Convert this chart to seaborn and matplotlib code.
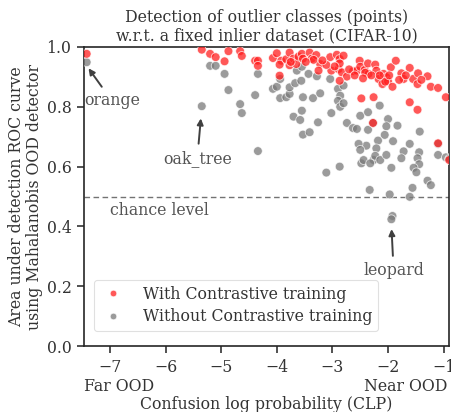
import matplotlib
matplotlib.use("Agg")
import matplotlib.pyplot as plt
import seaborn as sns
import pandas as pd
import numpy as np

# ---- data ----
with_clp = [-7.42, -5.35, -5.20, -5.10, -4.94, -4.87, -4.66, -4.63, -4.39, -4.34,
            -4.34, -4.07, -4.00, -3.92, -3.95, -3.83, -3.77, -3.77, -3.70, -3.65,
            -3.61, -3.55, -3.53, -3.41, -3.37, -3.95, -3.29, -3.22, -3.04, -2.92,
            -2.87, -2.80, -3.25, -3.02, -2.89, -2.83, -2.74, -2.63, -2.56, -2.51,
            -2.50, -2.42, -2.36, -2.35, -2.23, -2.21, -2.17, -2.10, -2.08, -2.03,
            -2.00, -1.95, -1.92, -1.86, -1.76, -1.72, -1.61, -1.55, -1.46, -1.47,
            -1.29, -1.23, -1.10, -0.96, -2.48, -2.26, -1.61, -1.47, -2.27, -1.10,
            -2.87, -0.90, -3.34, -3.11, -2.87, -2.41, -2.05, -3.48, -3.18, -2.96,
            -2.70, -2.60, -2.45, -2.30, -2.15, -1.98, -1.80, -1.68, -1.40, -3.75]
with_auc = [0.977, 0.991, 0.977, 0.966, 0.952, 0.986, 0.986, 0.970, 0.954, 0.954,
            0.937, 0.963, 0.979, 0.954, 0.941, 0.959, 0.981, 0.939, 0.961, 0.943,
            0.968, 0.977, 0.961, 0.981, 0.961, 0.904, 0.973, 0.943, 0.966, 0.974,
            0.960, 0.971, 0.921, 0.921, 0.926, 0.915, 0.901, 0.919, 0.921, 0.954,
            0.934, 0.923, 0.945, 0.910, 0.941, 0.921, 0.893, 0.876, 0.910, 0.899,
            0.885, 0.932, 0.867, 0.954, 0.912, 0.893, 0.930, 0.893, 0.912, 0.876,
            0.902, 0.867, 0.863, 0.832, 0.828, 0.832, 0.815, 0.790, 0.746, 0.678,
            0.887, 0.622, 0.957, 0.940, 0.945, 0.914, 0.884, 0.950, 0.955, 0.935,
            0.925, 0.905, 0.895, 0.905, 0.905, 0.905, 0.890, 0.905, 0.890, 0.950]

without_clp = [-7.42, -5.20, -5.10, -4.94, -4.87, -5.35, -4.66, -4.63, -4.39, -4.34,
               -4.34, -4.07, -4.00, -3.94, -3.94, -3.83, -3.77, -3.77, -3.67, -3.64,
               -3.56, -3.55, -3.43, -3.35, -3.53, -3.70, -3.58, -3.55, -3.53, -3.41,
               -3.28, -3.22, -3.04, -2.90, -2.80, -2.86, -2.90, -2.86, -3.02, -3.26,
               -2.74, -2.63, -2.56, -2.50, -2.36, -2.36, -2.15, -2.00, -2.03, -2.06,
               -2.18, -2.21, -2.39, -2.53, -2.50, -1.91, -1.72, -1.61, -1.43, -1.44,
               -1.83, -2.48, -2.44, -2.26, -2.23, -2.14, -2.03, -1.94, -1.76, -1.47,
               -1.44, -1.54, -1.49, -1.29, -1.23, -2.33, -1.97, -1.56, -1.61, -1.92,
               -1.94, -1.10, -0.96, -3.11, -2.87, -1.10, -2.27, -2.80, -2.32, -0.90]
without_auc = [0.949, 0.937, 0.937, 0.910, 0.856, 0.802, 0.809, 0.779, 0.839, 0.910,
               0.652, 0.860, 0.867, 0.829, 0.893, 0.832, 0.843, 0.865, 0.879, 0.921,
               0.887, 0.934, 0.910, 0.829, 0.832, 0.767, 0.756, 0.787, 0.707, 0.715,
               0.902, 0.845, 0.893, 0.860, 0.871, 0.837, 0.820, 0.800, 0.779, 0.748,
               0.746, 0.729, 0.726, 0.770, 0.782, 0.723, 0.804, 0.759, 0.735, 0.706,
               0.687, 0.661, 0.670, 0.676, 0.656, 0.685, 0.651, 0.676, 0.717, 0.648,
               0.737, 0.611, 0.622, 0.622, 0.636, 0.622, 0.639, 0.596, 0.628, 0.628,
               0.608, 0.596, 0.581, 0.553, 0.538, 0.522, 0.507, 0.529, 0.499, 0.435,
               0.424, 0.639, 0.631, 0.580, 0.600, 0.676, 0.746, 0.812, 0.611, 0.626]

series_labels = ["With Contrastive training", "Without Contrastive training"]
x_ticks = [-7, -6, -5, -4, -3, -2, -1]
y_ticks = [0.0, 0.2, 0.4, 0.6, 0.8, 1.0]

df = pd.DataFrame({
    "clp": without_clp + with_clp,
    "auc": without_auc + with_auc,
    "series": [series_labels[1]] * len(without_clp) + [series_labels[0]] * len(with_clp),
})

# ---- style ----
sns.set_theme(style="ticks")
fs = 11.3
plt.rcParams["font.family"] = ["DejaVu Serif"]
plt.rcParams["font.size"] = fs
TXT = "0.2"
plt.rcParams["text.color"] = TXT
plt.rcParams["axes.labelcolor"] = TXT
plt.rcParams["xtick.color"] = TXT
plt.rcParams["ytick.color"] = TXT

fig = plt.figure(figsize=(4.51, 4.12), dpi=100)
ax = fig.add_axes([0.186, 0.160, 0.810, 0.726])

palette = {series_labels[0]: "#ff2020", series_labels[1]: "#7a7a7a"}
sns.scatterplot(data=df, x="clp", y="auc", hue="series", hue_order=series_labels,
                palette=palette, s=40, alpha=0.75, edgecolor="white", linewidth=0.6,
                ax=ax, zorder=3)

ax.axhline(0.5, color="0.45", lw=1.0, ls=(0, (4, 2.5)), zorder=1)

ax.set_xlim(-7.47, -0.9)
ax.set_ylim(0.0, 1.0)
ax.set_xticks(x_ticks)
ax.set_yticks(y_ticks)
ax.set_xticklabels([f"\u2212{abs(t)}" for t in x_ticks])
ax.set_yticklabels([f"{t:.1f}" for t in y_ticks])
ax.tick_params(labelsize=fs, length=5, width=1.2, pad=4)
for s in ax.spines.values():
    s.set_linewidth(1.2)
    s.set_color("0.15")

ax.set_title("Detection of outlier classes (points)\nw.r.t. a fixed inlier dataset (CIFAR-10)",
             fontsize=fs, color=TXT, pad=5, linespacing=1.1)
ax.set_ylabel("Area under detection ROC curve\nusing Mahalanobis OOD detector",
              fontsize=fs, linespacing=1.1)
ax.yaxis.set_label_coords(-0.112, 0.5)
ax.set_xlabel("Confusion log probability (CLP)", fontsize=fs)
ax.xaxis.set_label_coords(0.5, -0.168)

ax.text(0.0, -0.135, "Far OOD", transform=ax.transAxes, ha="left", va="center",
        fontsize=fs, color=TXT)
ax.text(0.995, -0.135, "Near OOD", transform=ax.transAxes, ha="right", va="center",
        fontsize=fs, color=TXT)

ann_color = "0.33"
arrow = dict(arrowstyle="-|>", color="0.25", lw=1.4, mutation_scale=9, shrinkA=2, shrinkB=3)
ax.annotate("orange", xy=(-7.43, 0.94), xytext=(-7.47, 0.82), ha="left", va="center",
            fontsize=fs, color=ann_color, arrowprops=arrow)
ax.annotate("oak_tree", xy=(-5.36, 0.775), xytext=(-5.43, 0.628), ha="center", va="center",
            fontsize=fs, color=ann_color, arrowprops=arrow)
ax.annotate("leopard", xy=(-1.94, 0.405), xytext=(-1.90, 0.253), ha="center", va="center",
            fontsize=fs, color=ann_color, arrowprops=arrow)
ax.text(-7.0, 0.452, "chance level", ha="left", va="center", fontsize=fs, color=ann_color)

leg = ax.legend(loc="lower left", bbox_to_anchor=(0.005, 0.025), fontsize=fs,
                frameon=True, markerscale=0.75, handletextpad=1.0, borderpad=0.35,
                labelspacing=0.35, handlelength=1.8)
leg.get_frame().set_edgecolor("0.85")
leg.get_frame().set_linewidth(0.8)
for t in leg.get_texts():
    t.set_color(TXT)

fig.savefig("out.png", dpi=100)
